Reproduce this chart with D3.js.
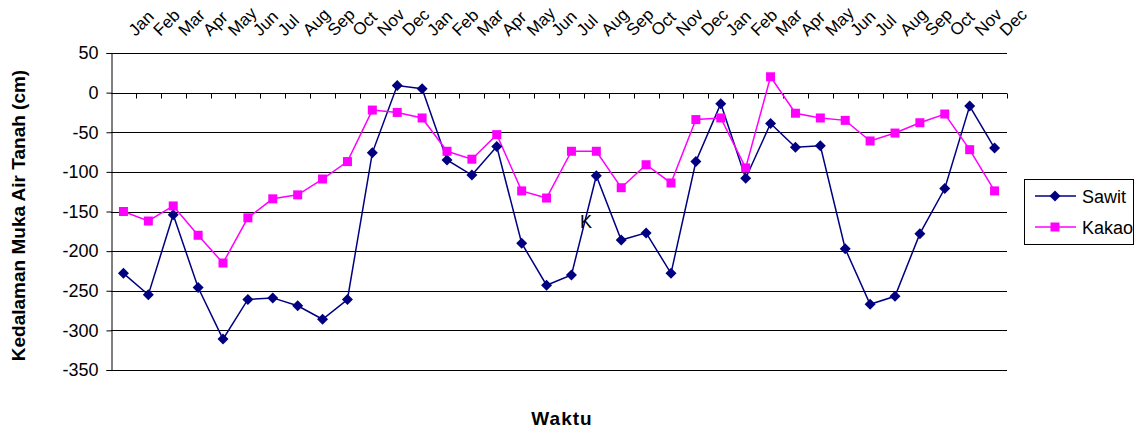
<!DOCTYPE html>
<html>
<head>
<meta charset="utf-8">
<script src="https://cdn.jsdelivr.net/npm/d3@7"></script>
<style>
  body { margin: 0; background: #fff; }
  text { font-family: Arial, "Liberation Sans", sans-serif; }
</style>
</head>
<body>
<div id="chart"></div>
<script>
// Month labels along the top (three years)
const monthLabels = [
  "Jan", "Feb", "Mar", "Apr", "May", "Jun", "Jul", "Aug", "Sep", "Oct", "Nov", "Dec",
  "Jan", "Feb", "Mar", "Apr", "May", "Jun", "Jul", "Aug", "Sep", "Oct", "Nov", "Dec",
  "Jan", "Feb", "Mar", "Apr", "May", "Jun", "Jul", "Aug", "Sep", "Oct", "Nov", "Dec"
];

// Water table depth (cm)
const sawit = [
  -228, -255, -154, -246, -311, -261, -259, -269, -286, -261, -76, 9,
  5, -85, -104, -68, -190, -243, -230, -105, -186, -177, -228, -87,
  -14, -108, -39, -69, -67, -197, -267, -257, -178, -121, -17, -70
];
const kakao = [
  -150, -162, -143, -180, -215, -158, -134, -129, -109, -87, -22, -25,
  -32, -74, -84, -53, -124, -133, -74, -74, -120, -91, -114, -34,
  -32, -95, 20, -26, -32, -35, -61, -51, -38, -27, -72, -124
];

const yTicks = [50, 0, -50, -100, -150, -200, -250, -300, -350];

// Dimensions
const width = 1135;
const height = 429;
const plot = { left: 111, right: 1007, top: 53, bottom: 370 };

const svg = d3
  .select("#chart")
  .append("svg")
  .attr("width", width)
  .attr("height", height);

const x = d3
  .scaleBand()
  .domain(d3.range(monthLabels.length))
  .range([plot.left, plot.right])
  .padding(0);

const y = d3.scaleLinear().domain([-350, 50]).range([plot.bottom, plot.top]);

const cx = (i) => x(i) + x.bandwidth() / 2;

// Horizontal gridlines
svg
  .append("g")
  .selectAll("line")
  .data(yTicks)
  .enter()
  .append("line")
  .attr("x1", plot.left)
  .attr("x2", plot.right)
  .attr("y1", (d) => Math.round(y(d)) + 0.5)
  .attr("y2", (d) => Math.round(y(d)) + 0.5)
  .attr("stroke", "#000")
  .attr("stroke-width", 1);

// Left value axis
const yAxis = d3
  .axisLeft(y)
  .tickValues(yTicks)
  .tickSize(5)
  .tickPadding(8)
  .tickFormat((d) => d);

svg
  .append("g")
  .attr("transform", `translate(${plot.left + 0.5},0)`)
  .call(yAxis)
  .call((g) => g.select(".domain").attr("stroke", "#000"))
  .call((g) =>
    g.selectAll(".tick text").attr("font-size", 18).attr("fill", "#000").attr("font-family", "Arial, 'Liberation Sans', sans-serif")
  );

// Category axis crossing at zero, ticks between categories
const zeroY = Math.round(y(0)) + 0.5;
svg
  .append("g")
  .selectAll("line")
  .data(d3.range(1, monthLabels.length + 1))
  .enter()
  .append("line")
  .attr("x1", (i) => Math.round(plot.left + i * x.bandwidth()) + 0.5)
  .attr("x2", (i) => Math.round(plot.left + i * x.bandwidth()) + 0.5)
  .attr("y1", zeroY)
  .attr("y2", zeroY + 5)
  .attr("stroke", "#000");

// Month labels above the plot, rotated
svg
  .append("g")
  .selectAll("text")
  .data(monthLabels)
  .enter()
  .append("text")
  .attr("transform", (d, i) => `translate(${cx(i) + 12},37) rotate(-45)`)
  .attr("font-size", 17)
  .attr("fill", "#000")
  .text((d) => d);

// Lines
const line = d3
  .line()
  .x((d, i) => cx(i))
  .y((d) => y(d));

svg
  .append("path")
  .datum(sawit)
  .attr("fill", "none")
  .attr("stroke", "#000080")
  .attr("stroke-width", 1.5)
  .attr("d", line);

svg
  .append("path")
  .datum(kakao)
  .attr("fill", "none")
  .attr("stroke", "#FF00FF")
  .attr("stroke-width", 1.5)
  .attr("d", line);

const diamond = "M0,-5.5L5.5,0L0,5.5L-5.5,0Z";

svg
  .append("g")
  .selectAll("path")
  .data(sawit)
  .enter()
  .append("path")
  .attr("transform", (d, i) => `translate(${cx(i)},${y(d)})`)
  .attr("d", diamond)
  .attr("fill", "#000080");

svg
  .append("g")
  .selectAll("rect")
  .data(kakao)
  .enter()
  .append("rect")
  .attr("x", (d, i) => cx(i) - 4.5)
  .attr("y", (d) => y(d) - 4.5)
  .attr("width", 9)
  .attr("height", 9)
  .attr("fill", "#FF00FF");

// Stray annotation in the plot
svg
  .append("text")
  .attr("x", 586)
  .attr("y", 228)
  .attr("text-anchor", "middle")
  .attr("font-size", 18)
  .attr("fill", "#000")
  .text("K");

// Axis titles
svg
  .append("text")
  .attr("transform", `translate(25,${(plot.top + plot.bottom) / 2 + 4}) rotate(-90)`)
  .attr("text-anchor", "middle")
  .attr("font-size", 19)
  .attr("font-weight", "bold")
  .attr("fill", "#000")
  .text("Kedalaman Muka Air Tanah (cm)");

svg
  .append("text")
  .attr("x", 562)
  .attr("y", 425)
  .attr("text-anchor", "middle")
  .attr("font-size", 19)
  .attr("font-weight", "bold")
  .attr("letter-spacing", 1)
  .attr("fill", "#000")
  .text("Waktu");

// Legend
const legend = svg.append("g").attr("transform", "translate(1024,179)");
legend
  .append("rect")
  .attr("x", 0.5)
  .attr("y", 0.5)
  .attr("width", 109)
  .attr("height", 65)
  .attr("fill", "#fff")
  .attr("stroke", "#000");

const legendItems = [
  { name: "Sawit", color: "#000080", shape: "diamond" },
  { name: "Kakao", color: "#FF00FF", shape: "square" }
];

legendItems.forEach((item, k) => {
  const gy = 17 + k * 31;
  legend
    .append("line")
    .attr("x1", 11)
    .attr("x2", 52)
    .attr("y1", gy)
    .attr("y2", gy)
    .attr("stroke", item.color)
    .attr("stroke-width", 1.5);
  if (item.shape === "diamond") {
    legend
      .append("path")
      .attr("transform", `translate(31,${gy})`)
      .attr("d", diamond)
      .attr("fill", item.color);
  } else {
    legend
      .append("rect")
      .attr("x", 26.5)
      .attr("y", gy - 4.5)
      .attr("width", 9)
      .attr("height", 9)
      .attr("fill", item.color);
  }
  legend
    .append("text")
    .attr("x", 58)
    .attr("y", gy + 6.5)
    .attr("font-size", 18)
    .attr("fill", "#000")
    .text(item.name);
});
</script>
</body>
</html>
